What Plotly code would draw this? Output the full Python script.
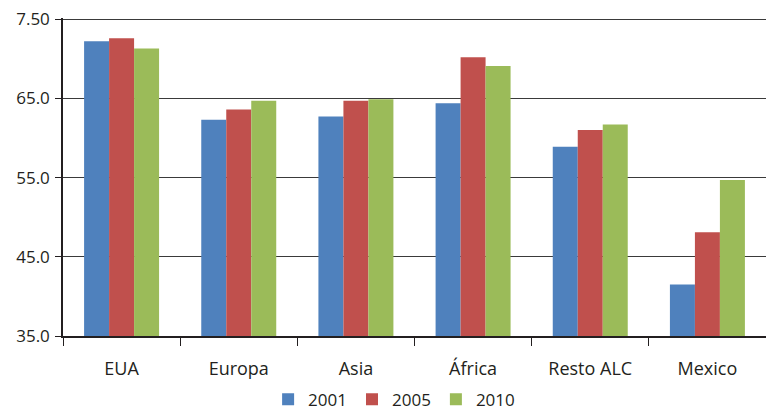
import plotly.graph_objects as go

categories = ["EUA", "Europa", "Asia", "África", "Resto ALC", "Mexico"]
years = ["2001", "2005", "2010"]
v2001 = [72.2, 62.3, 62.7, 64.4, 58.9, 41.5]
v2005 = [72.6, 63.6, 64.7, 70.2, 61.0, 48.1]
v2010 = [71.3, 64.7, 64.9, 69.1, 61.7, 54.7]
tick_vals = [35, 45, 55, 65, 75]
tick_text = ["35.0", "45.0", "55.0", "65.0", "7.50"]
colors = ["#4F81BD", "#C0504D", "#9BBB59"]

fig = go.Figure()
for name, vals, c in zip(years, [v2001, v2005, v2010], colors):
    fig.add_trace(go.Bar(x=categories, y=vals, name=name,
                         marker=dict(color=c, line=dict(width=0))))

fig.update_layout(
    width=766, height=418,
    margin=dict(l=63, r=0, t=18, b=74),
    paper_bgcolor="white", plot_bgcolor="white",
    barmode="group", bargap=0.36, bargroupgap=0,
    font=dict(family="Open Sans, sans-serif", size=17, color="#231f20"),
    showlegend=True,
    legend=dict(orientation="h", x=0.471, xanchor="center", y=-0.2, yanchor="middle",
                font=dict(size=17), itemwidth=30, traceorder="normal"),
)
fig.update_yaxes(range=[35, 75.15], tickvals=tick_vals, ticktext=tick_text,
                 showgrid=True, gridcolor="#3a3a3a", gridwidth=1,
                 showline=True, linecolor="#231f20", linewidth=1.5,
                 ticks="outside", ticklen=6, tickcolor="#231f20",
                 zeroline=False, tickfont=dict(size=17), automargin=False,
                 ticklabelstandoff=2)
fig.update_xaxes(showline=True, linecolor="#231f20", linewidth=1.5,
                 ticks="outside", tickson="boundaries", ticklen=8, tickcolor="#231f20",
                 tickfont=dict(size=18), automargin=False, ticklabelstandoff=16)

page_js = (
    "var s='margin:0;padding:0;overflow:hidden;width:766px;height:418px;';"
    "document.documentElement.style.cssText=s;document.body.style.cssText=s;"
    "var g=document.getElementsByClassName('plotly-graph-div')[0];"
    "g.style.position='fixed';g.style.left='0px';g.style.top='0px';"
)
fig.write_html("out.html", config={"displayModeBar": False}, post_script=page_js)
